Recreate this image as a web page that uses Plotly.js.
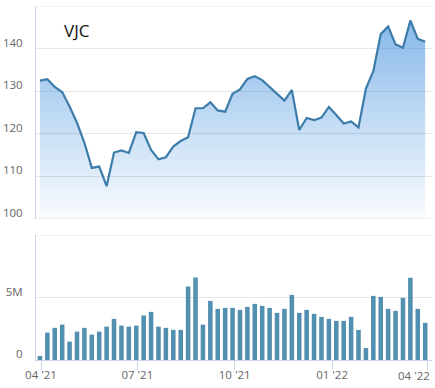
<!DOCTYPE html>
<html>
<head>
<meta charset="utf-8">
<script src="https://cdn.plot.ly/plotly-3.0.1.min.js"></script>
<style>
  html, body { margin: 0; padding: 0; background: #fff; }
  #chart { width: 435px; height: 388px; }
</style>
</head>
<body>
<div id="chart"></div>
<script>
// Weekly dates
const dates = [
  '2021-03-31','2021-04-07','2021-04-14','2021-04-21','2021-04-28',
  '2021-05-05','2021-05-12','2021-05-19','2021-05-26',
  '2021-06-02','2021-06-09','2021-06-16','2021-06-23','2021-06-30',
  '2021-07-07','2021-07-14','2021-07-21','2021-07-28',
  '2021-08-04','2021-08-11','2021-08-18','2021-08-25',
  '2021-09-01','2021-09-08','2021-09-15','2021-09-22','2021-09-29',
  '2021-10-06','2021-10-13','2021-10-20','2021-10-27',
  '2021-11-03','2021-11-10','2021-11-17','2021-11-24',
  '2021-12-01','2021-12-08','2021-12-15','2021-12-22','2021-12-29',
  '2022-01-05','2022-01-12','2022-01-19','2022-01-26',
  '2022-02-02','2022-02-09','2022-02-16','2022-02-23',
  '2022-03-02','2022-03-09','2022-03-16','2022-03-23','2022-03-30'
];

// Closing price (thousand VND)
const closePrice = [
  132.5, 132.8, 131.0, 129.8, 126.4, 122.6, 117.9, 112.0, 112.3, 107.7,
  115.6, 116.1, 115.5, 120.4, 120.2, 116.2, 114.0, 114.5, 117.0, 118.3,
  119.2, 126.0, 126.0, 127.4, 125.5, 125.2, 129.4, 130.4, 132.9, 133.5,
  132.6, 131.0, 129.5, 127.8, 130.3, 120.9, 123.7, 123.2, 123.8, 126.3,
  124.4, 122.4, 122.9, 121.5, 130.6, 134.7, 143.4, 145.2, 141.0, 140.2,
  146.6, 142.3, 141.6
];

// Weekly volume
const volume = [
  320000, 2190000, 2570000, 2830000, 1470000, 2270000, 2570000, 2030000, 2270000, 2670000,
  3290000, 2750000, 2670000, 2750000, 3560000, 3850000, 2670000, 2570000, 2410000, 2410000,
  5880000, 6600000, 2830000, 4730000, 4090000, 4170000, 4170000, 4010000, 4250000, 4490000,
  4330000, 4170000, 3770000, 4090000, 5210000, 3770000, 4010000, 3690000, 3450000, 3290000,
  3130000, 3130000, 3450000, 2410000, 960000, 5130000, 5050000, 4090000, 3930000, 4970000,
  6580000, 4090000, 2970000
];

// Axis ticks
const xTickVals = ['2021-04-01', '2021-07-01', '2021-10-01', '2022-01-01', '2022-04-01'];
const xTickText = ["04 '21", "07 '21", "10 '21", "01 '22", ""];
const lastXLabel = "04 '22";
const priceTickVals = [100, 110, 120, 130, 140];
const priceTickText = ['100', '110', '120', '130', '140'];
const priceEdges = [100, 150];
const volTickVals = [0, 5000000];
const volTickText = ['0', '5M'];
const volTop = 10000000;
const ticker = 'VJC';

const FONT = 'Open Sans, DejaVu Sans, sans-serif';
const LABEL = '#666666';
const AXIS = '#ccd6eb';
const GRID = '#e6e6e6';

const traces = [
  {
    type: 'scatter',
    mode: 'lines',
    x: dates,
    y: closePrice,
    xaxis: 'x',
    yaxis: 'y',
    line: { color: '#3c7caa', width: 2.2 },
    fill: 'tozeroy',
    fillgradient: {
      type: 'vertical',
      start: 100,
      stop: 150,
      colorscale: [[0, 'rgba(60,140,220,0.03)'], [0.5, 'rgba(60,140,220,0.335)'], [1, 'rgba(60,140,220,0.66)']]
    },
    hoverinfo: 'skip'
  },
  {
    type: 'bar',
    x: dates,
    y: volume,
    xaxis: 'x',
    yaxis: 'y2',
    marker: { color: '#5190b0', line: { width: 0 } },
    width: 4.3 * 86400000,
    hoverinfo: 'skip'
  }
];

const shapes = [
  ...priceEdges.map(v => ({
    type: 'line', xref: 'paper', yref: 'y', x0: 0, x1: 1, y0: v, y1: v,
    line: { color: GRID, width: 1 }, layer: 'below'
  })),
  {
    type: 'line', xref: 'paper', yref: 'y2', x0: 0, x1: 1, y0: volTop, y1: volTop,
    line: { color: GRID, width: 1 }, layer: 'below'
  }
];

const layout = {
  width: 435,
  height: 388,
  margin: { l: 36, r: 3, t: 6, b: 28 },
  paper_bgcolor: '#ffffff',
  plot_bgcolor: '#ffffff',
  showlegend: false,
  font: { family: FONT, size: 11.5, color: LABEL },
  xaxis: {
    type: 'date',
    anchor: 'y2',
    range: ['2021-03-27 06:40', '2022-04-05 10:30'],
    tickmode: 'array',
    tickvals: xTickVals,
    ticktext: xTickText,
    ticks: 'outside',
    ticklen: 9,
    tickwidth: 1,
    tickcolor: AXIS,
    ticklabelstandoff: -5,
    showline: true,
    linecolor: AXIS,
    linewidth: 1,
    showgrid: false,
    zeroline: false,
    tickfont: { family: FONT, size: 11.5, color: LABEL },
    fixedrange: true
  },
  yaxis: {
    domain: [0.3983, 1],
    anchor: 'x',
    range: [100, 150],
    tickmode: 'array',
    tickvals: priceTickVals,
    ticktext: priceTickText,
    ticks: '',
    showline: true,
    linecolor: AXIS,
    linewidth: 1,
    gridcolor: GRID,
    gridwidth: 1,
    zeroline: false,
    ticklabelshift: -6,
    ticklabelstandoff: 10,
    tickfont: { family: FONT, size: 11.5, color: LABEL },
    fixedrange: true
  },
  yaxis2: {
    domain: [0, 0.3531],
    anchor: 'x',
    range: [0, volTop],
    tickmode: 'array',
    tickvals: volTickVals,
    ticktext: volTickText,
    ticks: '',
    showline: true,
    linecolor: AXIS,
    linewidth: 1,
    gridcolor: GRID,
    gridwidth: 1,
    zeroline: false,
    ticklabelshift: -6,
    ticklabelstandoff: 10,
    tickfont: { family: FONT, size: 11.5, color: LABEL },
    fixedrange: true
  },
  shapes: shapes,
  annotations: [
    {
      text: ticker,
      xref: 'paper', yref: 'paper',
      x: 0.0657, y: 0.932,
      xanchor: 'left', yanchor: 'middle',
      showarrow: false,
      font: { family: FONT, size: 17, color: '#111111' }
    },
    {
      text: lastXLabel,
      xref: 'paper', yref: 'paper',
      x: 1, y: 0,
      xanchor: 'right', yanchor: 'middle',
      yshift: -15,
      showarrow: false,
      font: { family: FONT, size: 11.5, color: LABEL }
    }
  ]
};

Plotly.newPlot('chart', traces, layout, { displayModeBar: false, staticPlot: true });
</script>
</body>
</html>
